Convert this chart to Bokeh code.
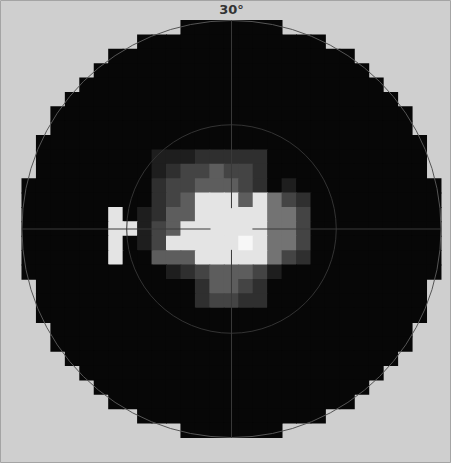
from bokeh.plotting import figure
from bokeh.models import ColumnDataSource, Range1d
from bokeh.core.properties import value
from bokeh.embed import file_html
from bokeh.resources import INLINE

# Grey-scale visual field, 29 x 29 cells (rows top -> bottom), '.' = outside field
grey_rows = [
    "...........0000000...........",
    "........0000000000000........",
    "......00000000000000000......",
    ".....0000000000000000000.....",
    "....000000000000000000000....",
    "...00000000000000000000000...",
    "..0000000000000000000000000..",
    "..0000000000000000000000000..",
    ".000000000000000000000000000.",
    ".00000000" + "111" + "22222" + "00000000000" + ".",
    ".00000000" + "12334332" + "00000000000" + ".",
    "000000000" + "23344432010" + "000000000",
    "000000000" + "23466646532" + "000000000",
    "000000" + "601" + "24466666553" + "000000000",
    "000000" + "661" + "34666666553" + "000000000",
    "000000" + "601" + "36666676553" + "000000000",
    "000000" + "600" + "44466666532" + "000000000",
    "000000000" + "01234443100" + "000000000",
    ".00000000000" + "24432" + "00000000000" + ".",
    ".00000000000" + "23322" + "00000000000" + ".",
    ".000000000000000000000000000.",
    "..0000000000000000000000000..",
    "..0000000000000000000000000..",
    "...00000000000000000000000...",
    "....000000000000000000000....",
    ".....0000000000000000000.....",
    "......00000000000000000......",
    "........0000000000000........",
    "...........0000000...........",
]
level_colors = {
    "0": "#070707", "1": "#1e1e1e", "2": "#2f2f2f", "3": "#444444",
    "4": "#5d5d5d", "5": "#737373", "6": "#e4e4e4", "7": "#f7f7f7",
}
field_radius = 30          # degrees
ring_radii = [30, 15]
axis_gap = 3
label_text = ["30°"]

for r in grey_rows:
    assert len(r) == 29, (r, len(r))

n = len(grey_rows)
half = (n - 1) // 2
cell = 2 * field_radius / n

xs, ys, cols = [], [], []
for ri, row in enumerate(grey_rows):
    for ci, ch in enumerate(row):
        if ch == ".":
            continue
        xs.append((ci - half) * cell)
        ys.append(-(ri - half) * cell)
        cols.append(level_colors[ch])
src = ColumnDataSource(dict(x=xs, y=ys, c=cols))

p = figure(width=451, height=463, output_backend="svg", toolbar_location=None,
           x_axis_location=None, y_axis_location=None,
           x_range=Range1d(-33.07, 31.5), y_range=Range1d(-33.74, 32.88),
           min_border=0)
p.grid.visible = False
p.background_fill_color = "#cfcfcf"
p.border_fill_color = "#cfcfcf"
p.outline_line_color = "#a4a4a4"
p.outline_line_width = 1

p.rect(x="x", y="y", width=cell + 0.13, height=cell + 0.13, source=src,
       fill_color="c", line_color=None)

# rings
p.ellipse(x=[0], y=[0], width=[2 * ring_radii[0]], height=[2 * ring_radii[0]],
          fill_color=None, line_color="#555555", line_width=1)
p.ellipse(x=[0], y=[0], width=[2 * ring_radii[1]], height=[2 * ring_radii[1]],
          fill_color=None, line_color="#333333", line_width=1)

# cross hair with central gap
R = field_radius
p.segment(x0=[-R, axis_gap, 0, 0], y0=[0, 0, -R, axis_gap],
          x1=[-axis_gap, R, 0, 0], y1=[0, 0, -axis_gap, R],
          line_color="#3a3a3a", line_width=1)

p.text(x=[0], y=[31.55], text=label_text, text_font=value("DejaVu Sans"),
       text_font_style="bold", text_font_size="13px", text_color="#333333",
       text_align="center", text_baseline="middle")

open("out.html", "w").write(file_html(p, INLINE))
